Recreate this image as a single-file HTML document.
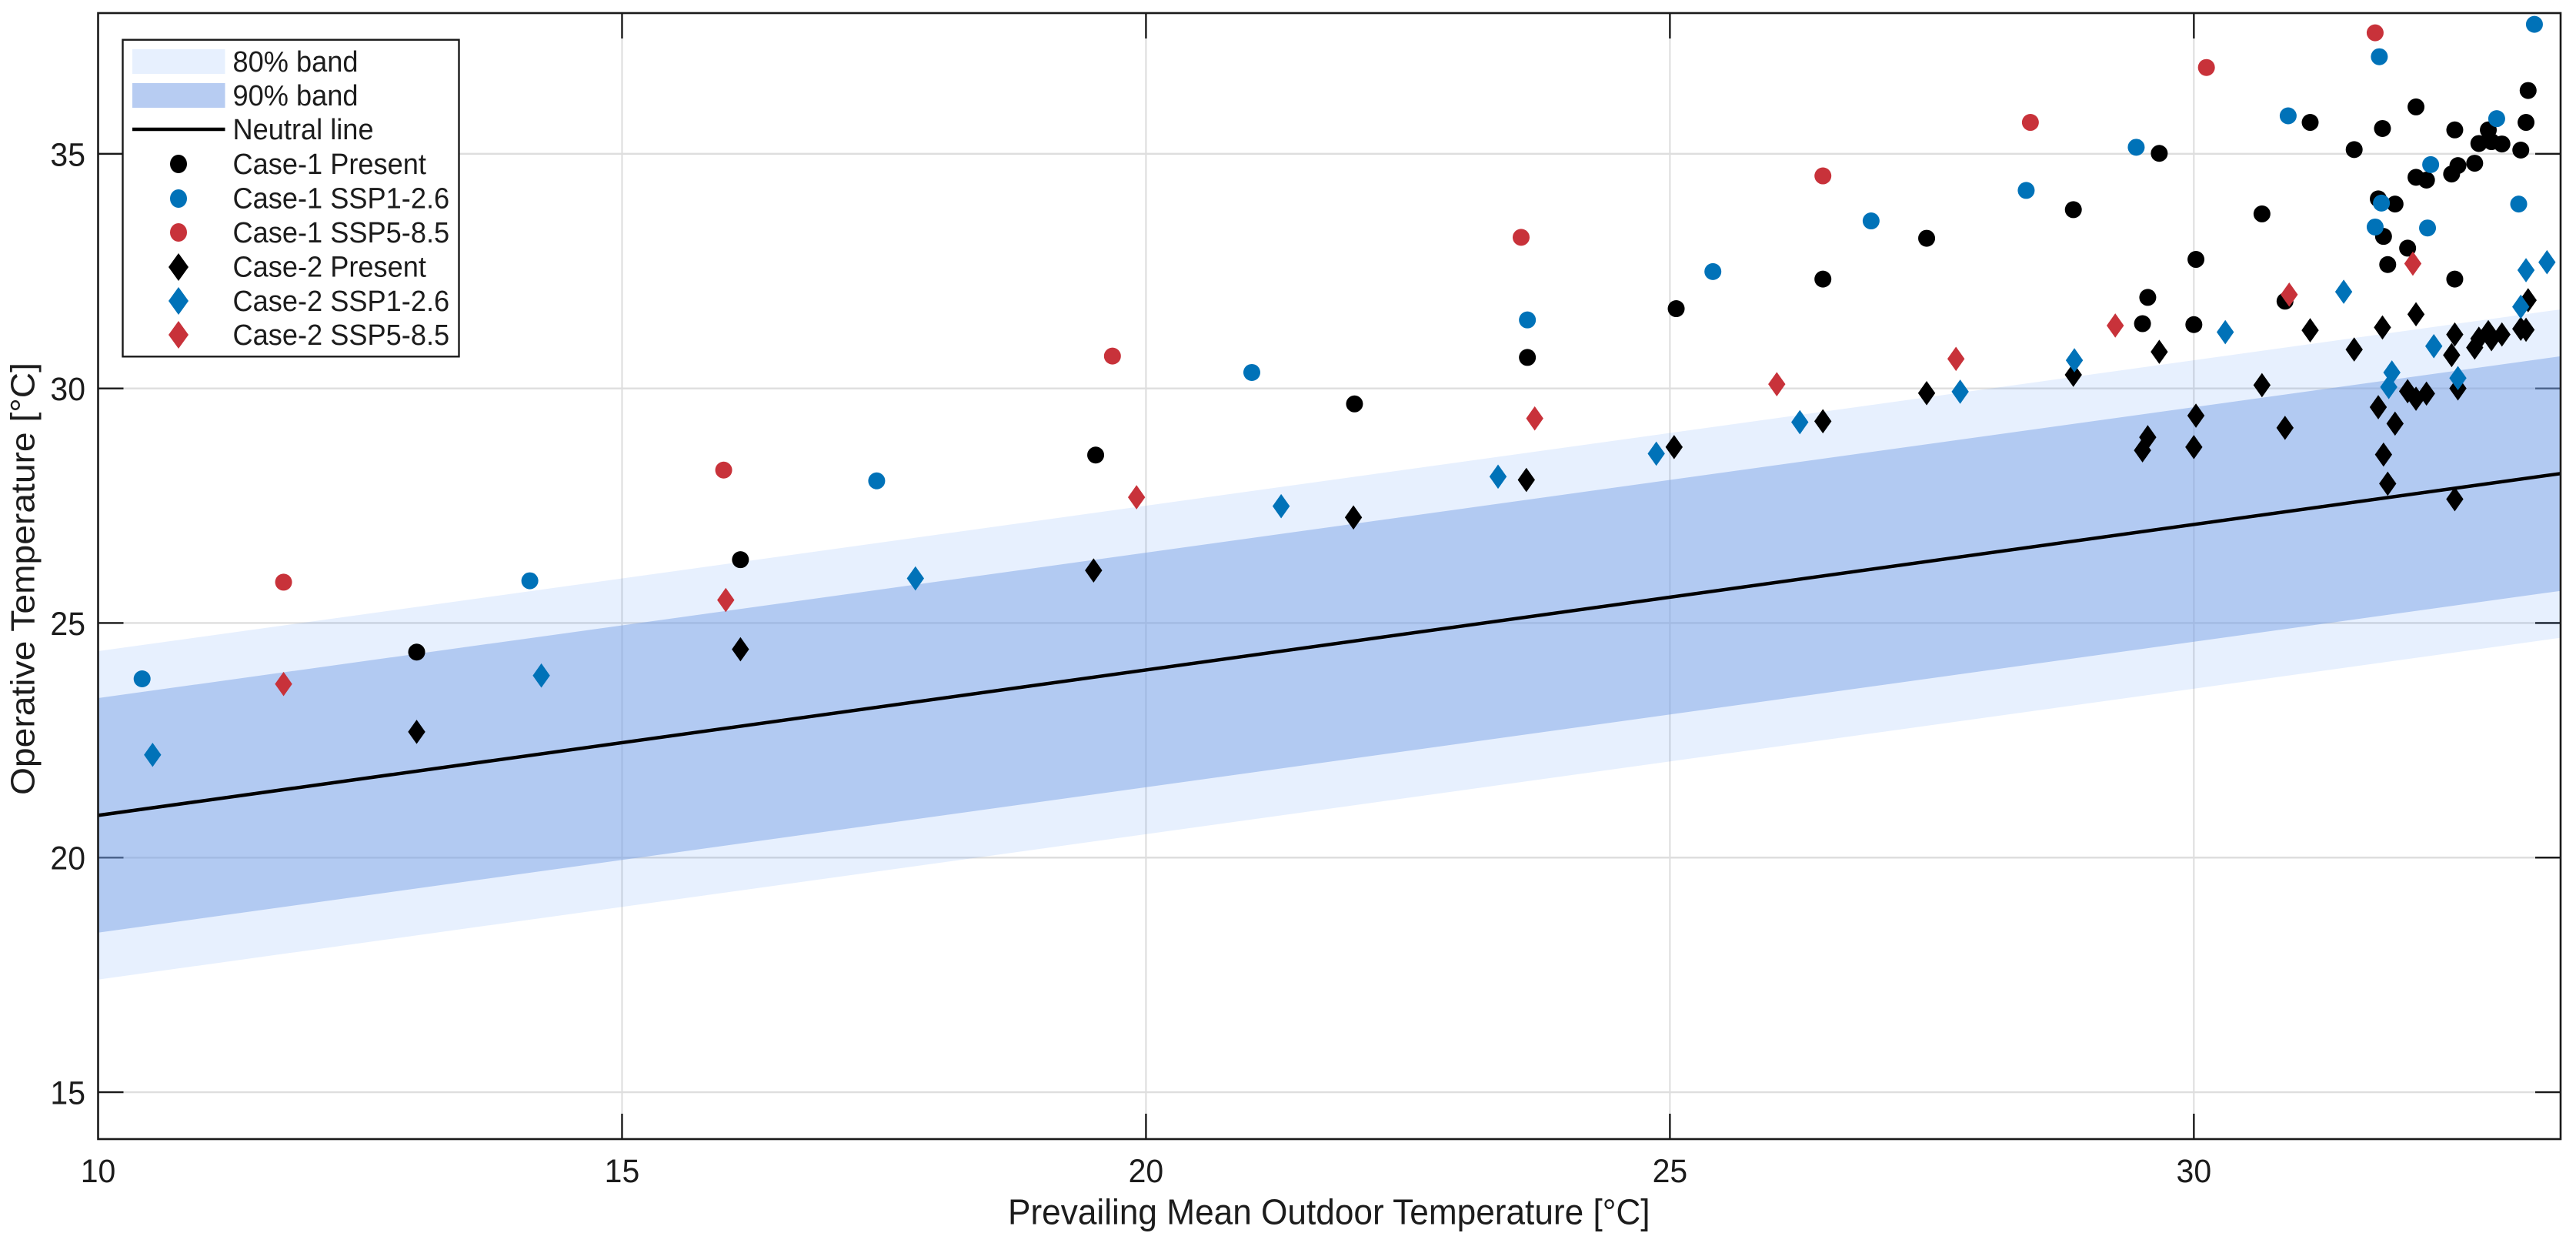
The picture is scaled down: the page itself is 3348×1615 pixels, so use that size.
<!DOCTYPE html>
<html lang="en">
<head>
<meta charset="utf-8">
<title>Operative Temperature vs Prevailing Mean Outdoor Temperature</title>
<style>
  html, body { margin: 0; padding: 0; background: #fff; width: 3348px; height: 1615px; overflow: hidden; }
  svg { display: block; }
  text { font-family: "Liberation Sans", Arial, sans-serif; fill: #1c1c1c; }
</style>
</head>
<body>
<svg id="chart" xmlns="http://www.w3.org/2000/svg" width="3348" height="1615" viewBox="0 0 3348 1615">
  <rect x="0" y="0" width="3348" height="1615" fill="#ffffff"/>
  <g id="grid"></g>
  <g id="ticks"></g>
  <g id="bands"></g>
  <g id="series"></g>
  <rect x="127.5" y="17" width="3200.5" height="1463" fill="none" stroke="#1a1a1a" stroke-width="2.6"/>
  <g id="tick-labels"></g>
  <text transform="translate(1310,1590.5) scale(1,1.05)" font-size="44.2">Prevailing Mean Outdoor Temperature [°C]</text>
  <text transform="translate(44.3,1033) scale(1,1.05) rotate(-90)" font-size="44">Operative Temperature [°C]</text>

  <g>
    <rect x="159.5" y="51.7" width="437" height="411.6" fill="#ffffff" stroke="#1a1a1a" stroke-width="2.4"/>
    <rect x="172" y="64" width="120.5" height="32" fill="#e7f0fe"/>
    <rect x="172" y="108" width="120.5" height="32" fill="#b7ccf2"/>
    <line x1="172" x2="292.5" y1="168" y2="168" stroke="#000000" stroke-width="4.5"/>
    <ellipse cx="232" cy="213" rx="11" ry="12" fill="#000000"/>
    <ellipse cx="232" cy="258" rx="11" ry="12" fill="#0072b8"/>
    <ellipse cx="232" cy="302" rx="11" ry="12" fill="#c8323a"/>
    <polygon points="232,329 245,347 232,365 219,347" fill="#000000"/>
    <polygon points="232,373 245,391 232,409 219,391" fill="#0072b8"/>
    <polygon points="232,417 245,435 232,453 219,435" fill="#c8323a"/>
    <text transform="translate(302.5,93) scale(1,1.05)" font-size="36.2">80% band</text>
    <text transform="translate(302.5,137) scale(1,1.05)" font-size="36.2">90% band</text>
    <text transform="translate(302.5,181) scale(1,1.05)" font-size="36.2">Neutral line</text>
    <text transform="translate(302.5,226) scale(1,1.05)" font-size="36.2">Case-1 Present</text>
    <text transform="translate(302.5,270.5) scale(1,1.05)" font-size="36.2">Case-1 SSP1-2.6</text>
    <text transform="translate(302.5,315) scale(1,1.05)" font-size="36.2">Case-1 SSP5-8.5</text>
    <text transform="translate(302.5,359.5) scale(1,1.05)" font-size="36.2">Case-2 Present</text>
    <text transform="translate(302.5,404) scale(1,1.05)" font-size="36.2">Case-2 SSP1-2.6</text>
    <text transform="translate(302.5,448) scale(1,1.05)" font-size="36.2">Case-2 SSP5-8.5</text>
  </g>
</svg>

<script>
// ---- axis ticks ----
const xTicks = [10, 15, 20, 25, 30];
const yTicks = [15, 20, 25, 30, 35];
const xDomain = [10, 33.5];
const yDomain = [14, 38];

// ---- bands and neutral line (values at the two ends of the x range) ----
const lineX = [10, 33.5];
const neutralLine = [20.9, 28.185];
const band80Upper = [24.4, 31.685];
const band80Lower = [17.4, 24.685];
const band90Upper = [23.4, 30.685];
const band90Lower = [18.4, 25.685];

// ---- Case-1 Present ----
const case1PresentX = [13.04, 16.13, 19.52, 21.99, 23.64, 25.06, 26.46, 27.45, 28.85, 29.67, 29.56, 29.51, 30.0, 30.02, 30.65, 30.87, 31.11, 31.53, 31.80, 31.76, 31.92, 31.81, 31.85, 32.04, 32.12, 32.12, 32.22, 32.46, 32.49, 32.49, 32.52, 32.68, 32.72, 32.81, 32.84, 32.94, 33.12, 33.17, 33.19];
const case1PresentY = [24.38, 26.35, 28.58, 29.67, 30.66, 31.70, 32.33, 33.20, 33.81, 35.01, 31.94, 31.38, 31.36, 32.75, 33.72, 31.86, 35.67, 35.09, 35.54, 34.04, 33.93, 33.24, 32.64, 32.99, 36.0, 34.50, 34.44, 34.57, 35.51, 32.33, 34.75, 34.80, 35.22, 35.51, 35.26, 35.21, 35.08, 35.67, 36.35];

// ---- Case-1 SSP1-2.6 ----
const case1Ssp126X = [10.42, 14.12, 17.43, 21.01, 23.64, 25.41, 26.92, 28.40, 29.45, 30.90, 31.73, 31.77, 31.79, 32.23, 32.26, 32.89, 33.10, 33.25];
const case1Ssp126Y = [23.81, 25.90, 28.03, 30.34, 31.46, 32.49, 33.57, 34.22, 35.14, 35.81, 33.44, 37.07, 33.95, 33.42, 34.77, 35.75, 33.93, 37.76];

// ---- Case-1 SSP5-8.5 ----
const case1Ssp585X = [11.77, 15.97, 19.68, 23.58, 26.46, 28.44, 30.12, 31.73];
const case1Ssp585Y = [25.87, 28.26, 30.69, 33.22, 34.53, 35.67, 36.84, 37.58];

// ---- Case-2 Present ----
const case2PresentX = [13.04, 16.13, 19.50, 21.98, 23.63, 25.04, 26.46, 27.45, 28.85, 29.51, 29.56, 29.67, 30.0, 30.02, 30.65, 30.87, 31.11, 31.53, 31.76, 31.80, 31.81, 31.85, 31.92, 32.04, 32.12, 32.12, 32.22, 32.46, 32.49, 32.49, 32.52, 32.68, 32.72, 32.81, 32.84, 32.94, 33.12, 33.17, 33.19];
const case2PresentY = [22.68, 24.44, 26.12, 27.25, 28.05, 28.75, 29.30, 29.90, 30.29, 28.68, 28.96, 30.78, 28.75, 29.42, 30.07, 29.16, 31.24, 30.83, 29.60, 31.30, 28.59, 27.97, 29.25, 29.94, 31.58, 29.78, 29.89, 30.71, 31.15, 27.64, 30.0, 30.87, 31.06, 31.20, 31.05, 31.15, 31.27, 31.25, 31.88];

// ---- Case-2 SSP1-2.6 ----
const case2Ssp126X = [10.52, 14.23, 17.80, 21.29, 23.36, 24.87, 26.24, 27.77, 28.86, 30.30, 31.43, 31.86, 31.89, 32.29, 32.52, 33.12, 33.17, 33.37];
const case2Ssp126Y = [22.19, 23.88, 25.95, 27.49, 28.12, 28.61, 29.28, 29.93, 30.60, 31.20, 32.06, 30.03, 30.34, 30.90, 30.22, 31.74, 32.52, 32.69];

// ---- Case-2 SSP5-8.5 ----
const case2Ssp585X = [11.77, 15.99, 19.91, 23.71, 26.02, 27.73, 29.25, 30.91, 32.09];
const case2Ssp585Y = [23.70, 25.49, 27.68, 29.36, 30.09, 30.63, 31.34, 32.0, 32.66];

// ---- plot geometry and axis functions ----
const plotLeft = 127.5, plotRight = 3328, plotTop = 17, plotBottom = 1480;
const tickLen = 33;
const SVG_NS = 'http://www.w3.org/2000/svg';
function sx(v) { return plotLeft + (v - xDomain[0]) / (xDomain[1] - xDomain[0]) * (plotRight - plotLeft); }
function sy(v) { return plotBottom - (v - yDomain[0]) / (yDomain[1] - yDomain[0]) * (plotBottom - plotTop); }
function mk(tag, parent, props) {
  const el = document.createElementNS(SVG_NS, tag);
  for (const k in props) el.setAttribute(k, props[k]);
  parent.appendChild(el);
  return el;
}

const gridG = document.getElementById('grid');
const ticksG = document.getElementById('ticks');
const labelsG = document.getElementById('tick-labels');
const bandsG = document.getElementById('bands');
const seriesG = document.getElementById('series');

// grid, ticks and tick labels
xTicks.forEach(function (t) {
  const x = sx(t);
  if (t !== xDomain[0]) {
    const g = mk('line', gridG, { x1: x, x2: x, y1: plotTop, y2: plotBottom, stroke: '#dcdcdc', 'stroke-width': 2 });
    
    
    const t1 = mk('line', ticksG, { x1: x, x2: x, y1: plotTop, y2: plotTop + tickLen, stroke: '#1a1a1a', 'stroke-width': 2.4 });
    
    
    const t2 = mk('line', ticksG, { x1: x, x2: x, y1: plotBottom, y2: plotBottom - tickLen, stroke: '#1a1a1a', 'stroke-width': 2.4 });
    
    
  }
  const lab = mk('text', labelsG, { transform: 'translate(' + x + ',1536) scale(1,1.05)', 'font-size': 41, 'text-anchor': 'middle' });
  lab.textContent = String(t);
  
  
});
yTicks.forEach(function (t) {
  const y = sy(t);
  const g = mk('line', gridG, { x1: plotLeft, x2: plotRight, y1: y, y2: y, stroke: '#dedede', 'stroke-width': 2.4 });
  
  
  const t1 = mk('line', ticksG, { x1: plotLeft, x2: plotLeft + tickLen, y1: y, y2: y, stroke: '#1a1a1a', 'stroke-width': 2.4 });
  
  
  const t2 = mk('line', ticksG, { x1: plotRight, x2: plotRight - tickLen, y1: y, y2: y, stroke: '#1a1a1a', 'stroke-width': 2.4 });
  
  
  const lab = mk('text', labelsG, { transform: 'translate(111,' + (y + 15.4) + ') scale(1,1.05)', 'font-size': 41, 'text-anchor': 'end' });
  lab.textContent = String(t);
  
  
});

// bands
function bandPoints(upper, lower) {
  return [
    sx(lineX[0]) + ',' + sy(upper[0]),
    sx(lineX[1]) + ',' + sy(upper[1]),
    sx(lineX[1]) + ',' + sy(lower[1]),
    sx(lineX[0]) + ',' + sy(lower[0])
  ].join(' ');
}
const outerBand = mk('polygon', bandsG, { points: bandPoints(band80Upper, band80Lower), fill: 'rgb(15,105,245)', 'fill-opacity': 0.1 });


const innerBand = mk('polygon', bandsG, { points: bandPoints(band90Upper, band90Lower), fill: 'rgb(125,164,230)', 'fill-opacity': 0.5 });


const neutral = mk('line', bandsG, { x1: sx(lineX[0]), y1: sy(neutralLine[0]), x2: sx(lineX[1]), y2: sy(neutralLine[1]), stroke: '#000000', 'stroke-width': 4.5 });



// markers
const BLACK = '#000000', BLUE = '#0072b8', RED = '#c8323a';
function drawCircles(xs, ys, color, name) {
  xs.forEach(function (v, i) {
    const c = mk('circle', seriesG, { cx: sx(v), cy: sy(ys[i]), r: 11, fill: color });
    
    
  });
}
function drawDiamonds(xs, ys, color, name) {
  xs.forEach(function (v, i) {
    const cx = sx(v), cy = sy(ys[i]);
    const pts = cx + ',' + (cy - 15.8) + ' ' + (cx + 11.2) + ',' + cy + ' ' + cx + ',' + (cy + 15.8) + ' ' + (cx - 11.2) + ',' + cy;
    const d = mk('polygon', seriesG, { points: pts, fill: color });
    
    
  });
}
drawCircles(case1PresentX, case1PresentY, BLACK, 'case-1-present-point');
drawCircles(case1Ssp126X, case1Ssp126Y, BLUE, 'case-1-ssp126-point');
drawCircles(case1Ssp585X, case1Ssp585Y, RED, 'case-1-ssp585-point');
drawDiamonds(case2PresentX, case2PresentY, BLACK, 'case-2-present-point');
drawDiamonds(case2Ssp126X, case2Ssp126Y, BLUE, 'case-2-ssp126-point');
drawDiamonds(case2Ssp585X, case2Ssp585Y, RED, 'case-2-ssp585-point');
</script>
</body>
</html>
